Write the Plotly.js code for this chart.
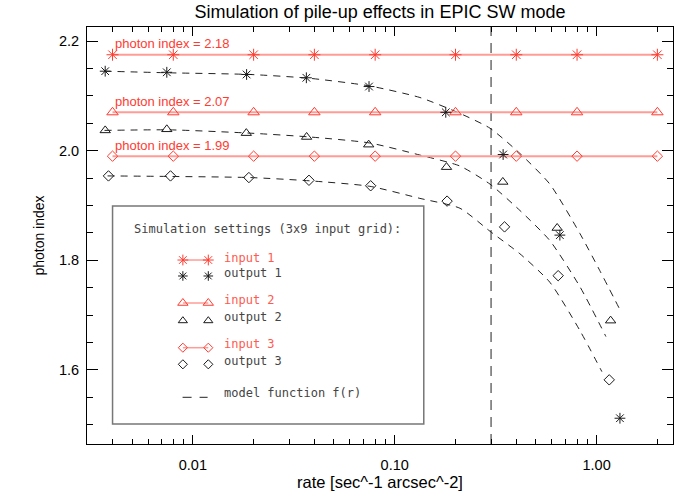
<!DOCTYPE html>
<html><head><meta charset="utf-8">
<script src="https://cdn.plot.ly/plotly-3.0.1.min.js"></script>
<style>html,body{margin:0;padding:0;background:#fff}#chart{width:700px;height:500px}</style>
</head><body><div id="chart"></div>
<script>
// ---------------- data ----------------
const inputRate = [0.004, 0.008, 0.02, 0.04, 0.08, 0.2, 0.4, 0.8, 2.0];
const inputIndex = [2.175, 2.07, 1.99];
const inputLabel = ['photon index = 2.18', 'photon index = 2.07', 'photon index = 1.99'];

const out1Rate = [0.00368, 0.00743, 0.01846, 0.0365, 0.07458, 0.179, 0.3443, 0.6577, 1.305];
const out1Index = [2.145, 2.143, 2.139, 2.133, 2.117, 2.070, 1.993, 1.846, 1.512];
const out2Rate = [0.00368, 0.00743, 0.0184, 0.0366, 0.0743, 0.1805, 0.3431, 0.6377, 1.173];
const out2Index = [2.037, 2.039, 2.032, 2.025, 2.011, 1.970, 1.943, 1.859, 1.690];
const out3Rate = [0.00382, 0.00775, 0.01895, 0.0376, 0.0760, 0.1817, 0.3499, 0.645, 1.155];
const out3Index = [1.954, 1.954, 1.951, 1.946, 1.936, 1.908, 1.861, 1.772, 1.582];

const model1Rate = [0.00365, 0.00768, 0.01915, 0.038, 0.0753, 0.1333, 0.2104, 0.2964, 0.4168, 0.5867, 0.8264, 1.038, 1.305];
const model1Index = [2.145, 2.142, 2.139, 2.132, 2.118, 2.097, 2.068, 2.041, 1.995, 1.939, 1.849, 1.781, 1.710];
const model2Rate = [0.00365, 0.00768, 0.01915, 0.038, 0.0753, 0.1333, 0.2104, 0.2964, 0.4168, 0.5867, 0.8264, 1.112];
const model2Index = [2.037, 2.038, 2.032, 2.025, 2.014, 1.992, 1.972, 1.939, 1.891, 1.836, 1.752, 1.661];
const model3Rate = [0.00378, 0.00768, 0.01915, 0.038, 0.0753, 0.1333, 0.2104, 0.2964, 0.4168, 0.5867, 0.8264, 1.062];
const model3Index = [1.954, 1.953, 1.951, 1.945, 1.935, 1.913, 1.895, 1.853, 1.812, 1.760, 1.672, 1.597];

const rateLimit = 0.3;

const xTickVals = [0.01, 0.1, 1];
const xTickText = ['0.01', '0.10', '1.00'];
const yTickVals = [1.6, 1.8, 2.0, 2.2];
const yTickText = ['1.6', '1.8', '2.0', '2.2'];

const titleText = 'Simulation of pile-up effects in EPIC SW mode';
const xTitle = 'rate [sec^-1 arcsec^-2]';
const yTitle = 'photon index';
const legendTitle = 'Simulation settings (3x9 input grid):';
const legendNames = ['input 1', 'output 1', 'input 2', 'output 2', 'input 3', 'output 3', 'model function f(r)'];

// ---------------- styling ----------------
const xRange = [0.00299, 2.39];
const yRange = [1.465, 2.2256];
const RED = '#ff3b30';
const RED_LINE = '#ff9c96';
const BLACK = '#1a1a1a';
const symbols = ['asterisk-open', 'triangle-up-open', 'diamond-open'];
const inSize = [10, 10, 8];
const outSize = [9, 9, 8];
const sansFont = 'Liberation Sans, Arial, Helvetica, sans-serif';
const legFont = 'DejaVu Sans Mono, monospace';

const outRates = [out1Rate, out2Rate, out3Rate];
const outIdx = [out1Index, out2Index, out3Index];
const modelRates = [model1Rate, model2Rate, model3Rate];
const modelIdx = [model1Index, model2Index, model3Index];

const traces = [];
// model curves
for (let i = 0; i < 3; i++) {
  traces.push({x: modelRates[i], y: modelIdx[i], mode: 'lines', type: 'scatter',
    line: {color: '#222', width: 1, dash: '7px,6px', shape: 'spline', smoothing: 0.6},
    hoverinfo: 'skip', showlegend: false});
}
// vertical limit line
traces.push({x: [rateLimit, rateLimit], y: yRange, mode: 'lines', type: 'scatter',
  line: {color: '#222', width: 1, dash: '10px,7px'}, hoverinfo: 'skip', showlegend: false});
// inputs
for (let i = 0; i < 3; i++) {
  traces.push({x: inputRate, y: inputRate.map(() => inputIndex[i]), mode: 'lines+markers', type: 'scatter',
    line: {color: RED_LINE, width: 2},
    marker: {symbol: symbols[i], size: inSize[i], color: RED, line: {color: RED, width: 1}},
    showlegend: false});
}
// outputs
for (let i = 0; i < 3; i++) {
  traces.push({x: outRates[i], y: outIdx[i], mode: 'markers', type: 'scatter',
    marker: {symbol: symbols[i], size: outSize[i], color: BLACK, line: {color: BLACK, width: 1}},
    showlegend: false});
}

// ---------------- custom legend (paper-like overlay axes) ----------------
const legX = [0.1636, 0.2070];
const legTextX = 0.2309;
const legRowY = [0.4412, 0.4029, 0.3381, 0.2957, 0.2309, 0.1911];
const legTextY = [0.4460, 0.4108, 0.3453, 0.3053, 0.2398, 0.1998, 0.1216];
for (let i = 0; i < 3; i++) {
  traces.push({x: legX, y: [legRowY[2*i], legRowY[2*i]], xaxis: 'x2', yaxis: 'y2', mode: 'lines+markers',
    line: {color: RED_LINE, width: 1.5},
    marker: {symbol: symbols[i], size: inSize[i] - 1, color: RED, line: {color: RED, width: 1}},
    hoverinfo: 'skip', showlegend: false});
  traces.push({x: legX, y: [legRowY[2*i+1], legRowY[2*i+1]], xaxis: 'x2', yaxis: 'y2', mode: 'markers',
    marker: {symbol: symbols[i], size: outSize[i] - 1, color: BLACK, line: {color: BLACK, width: 1}},
    hoverinfo: 'skip', showlegend: false});
}
traces.push({x: [0.1631, 0.2058], y: [0.1120, 0.1120], xaxis: 'x2', yaxis: 'y2', mode: 'lines',
  line: {color: '#222', width: 1, dash: '9px,8px'}, hoverinfo: 'skip', showlegend: false});

const annotations = [];
for (let i = 0; i < 3; i++) {
  annotations.push({text: inputLabel[i], xref: 'paper', yref: 'y', x: 0.0436, y: inputIndex[i],
    xanchor: 'left', yanchor: 'middle', yshift: 11, showarrow: false,
    font: {family: sansFont, size: 13, color: RED}});
}
annotations.push({text: legendTitle, xref: 'paper', yref: 'paper', x: 0.076, y: 0.5156,
  xanchor: 'left', yanchor: 'middle', showarrow: false, font: {family: legFont, size: 12, color: '#444'}});
legendNames.forEach((name, k) => {
  annotations.push({text: name, xref: 'paper', yref: 'paper', x: legTextX, y: legTextY[k],
    xanchor: 'left', yanchor: 'middle', showarrow: false,
    font: {family: legFont, size: 12, color: (k % 2 === 0 && k < 6) ? '#ff5a4f' : '#444'}});
});

const minorX = [];
[0.001, 0.01, 0.1, 1].forEach(d => { for (let m = 2; m <= 9; m++) minorX.push(+(d * m).toPrecision(3)); });

const layout = {
  width: 700, height: 500,
  margin: {l: 87, r: 27, t: 27, b: 56},
  paper_bgcolor: '#fff', plot_bgcolor: '#fff',
  showlegend: false,
  title: {text: titleText, x: 0.5, xref: 'paper', xanchor: 'center', y: 0.976, yref: 'container', yanchor: 'middle',
    font: {family: sansFont, size: 18, color: '#000'}},
  xaxis: {type: 'log', range: xRange.map(Math.log10), showgrid: false, zeroline: false,
    showline: true, linecolor: '#000', linewidth: 1, mirror: 'ticks',
    ticks: 'inside', ticklen: 9, tickcolor: '#000', tickwidth: 1,
    tickmode: 'array', tickvals: xTickVals, ticktext: xTickText, ticklabelstandoff: 8,
    tickfont: {family: sansFont, size: 14.5, color: '#000'},
    minor: {tickmode: 'array', tickvals: minorX, ticks: 'inside', ticklen: 5, tickcolor: '#000', tickwidth: 1, showgrid: false},
    title: {text: xTitle, standoff: 2, font: {family: sansFont, size: 16.5, color: '#000'}},
    automargin: false},
  yaxis: {range: yRange, showgrid: false, zeroline: false,
    showline: true, linecolor: '#000', linewidth: 1, mirror: 'ticks',
    ticks: 'inside', ticklen: 11, tickcolor: '#000', tickwidth: 1,
    tickmode: 'array', tickvals: yTickVals, ticktext: yTickText, ticklabelstandoff: 4,
    tickfont: {family: sansFont, size: 14.5, color: '#000'},
    minor: {dtick: 0.05, ticks: 'inside', ticklen: 6, tickcolor: '#000', tickwidth: 1, showgrid: false},
    title: {text: yTitle, standoff: 11, font: {family: sansFont, size: 14, color: '#000'}},
    automargin: false},
  xaxis2: {overlaying: 'x', range: [0, 1], visible: false, fixedrange: true, anchor: 'y2'},
  yaxis2: {overlaying: 'y', range: [0, 1], visible: false, fixedrange: true, anchor: 'x2'},
  shapes: [{type: 'rect', xref: 'paper', yref: 'paper', x0: 0.0436, x1: 0.5747, y0: 0.048, y1: 0.5707,
    line: {color: '#777', width: 1.5}, fillcolor: 'rgba(0,0,0,0)', layer: 'below'}],
  annotations: annotations
};

Plotly.newPlot('chart', traces, layout, {displayModeBar: false, staticPlot: true});
</script>
</body></html>
